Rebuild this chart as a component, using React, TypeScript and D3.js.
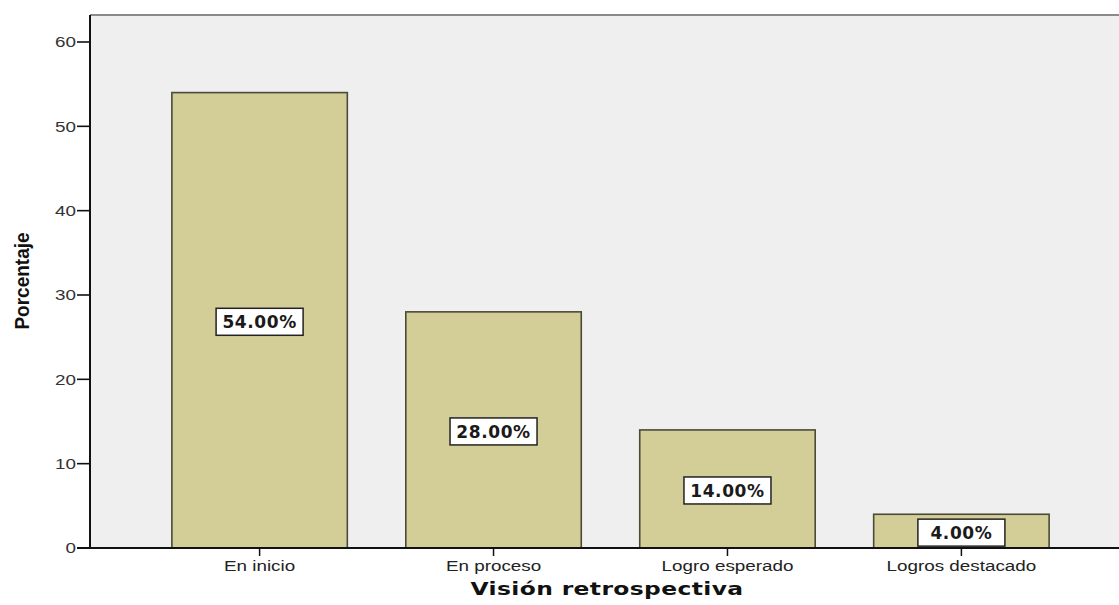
import React from "react";
import * as d3 from "d3";

const categories = ["En inicio", "En proceso", "Logro esperado", "Logros destacado"];
const percentages = [54, 28, 14, 4];
const yTicks = [0, 10, 20, 30, 40, 50, 60];
const yTitle = "Porcentaje";
const xTitle = "Visión retrospectiva";

const W = 1119;
const H = 605;
const left = 90;
const top = 15;
const bottom = 548;

// horizontal stretch applied to axis text
const STRETCH = 1.3;

export default function App() {
  const x = d3
    .scaleBand<string>()
    .domain(categories)
    .range([left, 1131])
    .paddingInner(0.25)
    .paddingOuter(0.35);
  const y = d3.scaleLinear().domain([0, 63.2]).range([bottom, top]);

  const sans = "'Liberation Sans', Arial, sans-serif";
  const bold = "'DejaVu Sans', Verdana, sans-serif";

  return (
    <svg
      width={W}
      height={H}
      style={{ position: "absolute", left: 0, top: 0, background: "#ffffff" }}
    >
      {/* plot background and frame */}
      <rect x={left} y={top} width={W - left + 10} height={bottom - top} fill="#efefef" />
      <line x1={left} x2={W} y1={top} y2={top} stroke="#8a8a8a" strokeWidth={2} />

      {/* bars */}
      {categories.map((c, i) => (
        <rect
          key={c}
          x={x(c)!}
          y={y(percentages[i])}
          width={x.bandwidth()}
          height={y(0) - y(percentages[i])}
          fill="#d3ce98"
          stroke="#4b4a38"
          strokeWidth={1.6}
        />
      ))}

      {/* value labels */}
      {categories.map((c, i) => {
        const cx = x(c)! + x.bandwidth() / 2;
        const mid = (y(percentages[i]) + y(0)) / 2 + 1.5;
        const cy = Math.min(mid, bottom - 13.5);
        return (
          <g key={c} transform={`translate(${cx},${cy})`}>
            <rect x={-43.5} y={-13.5} width={87} height={27} fill="#ffffff" stroke="#222" strokeWidth={1.5} />
            <text
              textAnchor="middle"
              dy="0.36em"
              fontFamily={bold}
              fontWeight="bold"
              fontSize={17}
              letterSpacing={0.6}
              fill="#1a1a1a"
            >
              {percentages[i].toFixed(2)}%
            </text>
          </g>
        );
      })}

      {/* y axis */}
      <line x1={left} x2={left} y1={top} y2={bottom} stroke="#111" strokeWidth={2} />
      {yTicks.map((t) => (
        <g key={t} transform={`translate(0,${y(t)})`}>
          <line x1={left - 13} x2={left} stroke="#111" strokeWidth={1.6} />
          <text
            transform={`translate(${left - 14},0) scale(${STRETCH},1)`}
            textAnchor="end"
            dy="0.36em"
            fontFamily={sans}
            fontSize={14.5}
            fill="#333"
          >
            {t}
          </text>
        </g>
      ))}

      {/* x axis */}
      <line x1={left - 13} x2={W} y1={bottom} y2={bottom} stroke="#111" strokeWidth={2} />
      {categories.map((c) => {
        const cx = x(c)! + x.bandwidth() / 2;
        return (
          <g key={c}>
            <line x1={cx} x2={cx} y1={bottom} y2={bottom + 8} stroke="#111" strokeWidth={1.5} />
            <text
              transform={`translate(${cx},${571}) scale(${STRETCH},1)`}
              textAnchor="middle"
              fontFamily={sans}
              fontSize={14.5}
              fill="#222"
            >
              {c}
            </text>
          </g>
        );
      })}

      {/* axis titles */}
      <text
        transform={`translate(${607},${595}) scale(${STRETCH},1)`}
        textAnchor="middle"
        fontFamily={bold}
        fontWeight="bold"
        fontSize={18}
        letterSpacing={0.3}
        fill="#111"
      >
        {xTitle}
      </text>
      <text
        transform={`translate(29,${281}) rotate(-90) scale(1,1.1)`}
        textAnchor="middle"
        fontFamily={sans}
        fontWeight="bold"
        fontSize={19}
        fill="#111"
      >
        {yTitle}
      </text>
    </svg>
  );
}
